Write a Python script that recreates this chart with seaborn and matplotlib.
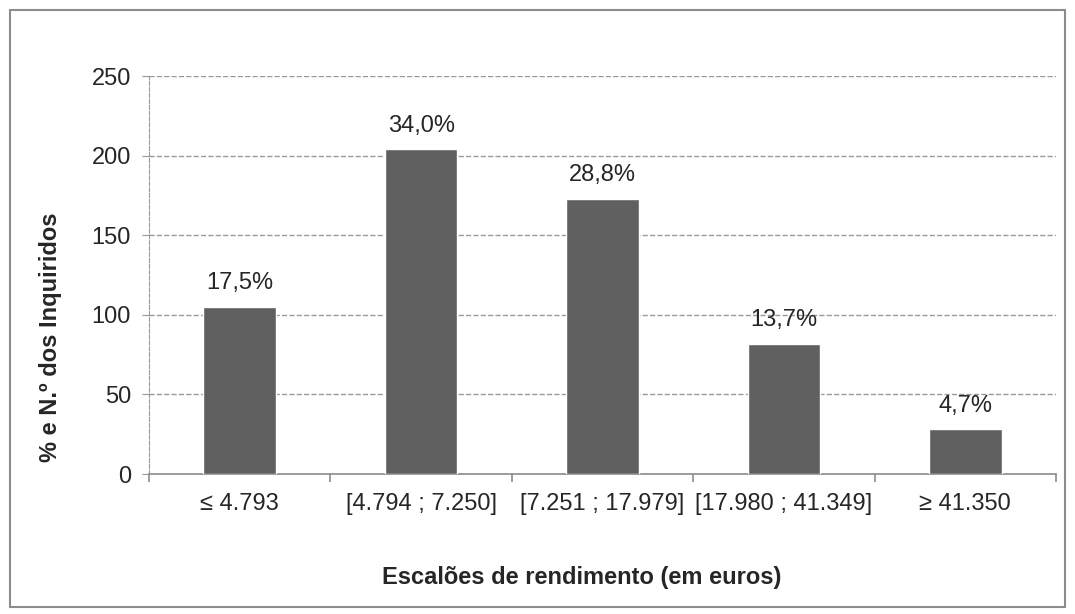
import matplotlib
matplotlib.use('Agg')
import matplotlib.pyplot as plt
import matplotlib.patches as mpatches
import seaborn as sns
import pandas as pd

categories = ['≤ 4.793', '[4.794 ; 7.250]', '[7.251 ; 17.979]',
              '[17.980 ; 41.349]', '≥ 41.350']
counts = [105, 204, 173, 82, 28]
pct_labels = ['17,5%', '34,0%', '28,8%', '13,7%', '4,7%']


def main():
    sns.set_style('white')
    plt.rcParams['font.family'] = ['Liberation Sans', 'DejaVu Sans']

    df = pd.DataFrame({'escalao': categories, 'n': counts})

    fig = plt.figure(figsize=(10.75, 6.14), dpi=100)
    ax = fig.add_axes([0.1386, 0.228, 0.8437, 0.648])

    sns.barplot(data=df, x='escalao', y='n', color='#606060', saturation=1,
                width=0.4, ax=ax, zorder=3)

    for i, (v, lab) in enumerate(zip(counts, pct_labels)):
        ax.annotate(lab, (i, v), xytext=(0, 9), textcoords='offset points',
                    ha='center', va='bottom', fontsize=17)

    ax.set_ylim(0, 250)
    ax.set_xlim(-0.5, len(categories) - 0.5)
    ax.set_yticks(range(0, 251, 50))
    ax.yaxis.grid(True, linestyle='--', color='#999999', linewidth=1, zorder=0)
    ax.set_axisbelow(True)

    for s in ['top', 'right']:
        ax.spines[s].set_visible(False)
    ax.spines['left'].set_color('#999999')
    ax.spines['left'].set_linestyle('--')
    ax.spines['bottom'].set_color('#8c8c8c')
    ax.spines['bottom'].set_linewidth(1.2)

    ax.tick_params(axis='y', labelsize=17, length=5, color='#999999',
                   left=True, pad=8)
    ax.tick_params(axis='x', which='major', labelsize=17, length=0, pad=14)
    ax.set_xticks([i - 0.5 for i in range(len(categories) + 1)], minor=True)
    ax.tick_params(axis='x', which='minor', length=6, color='#8c8c8c',
                   bottom=True, width=1.2)

    ax.set_xlabel('Escalões de rendimento (em euros)', fontsize=17,
                  fontweight='bold')
    ax.set_ylabel('% e N.º dos Inquiridos', fontsize=17, fontweight='bold')
    ax.xaxis.set_label_coords(0.477, -0.261)
    ax.xaxis.label.set_verticalalignment('center')
    ax.yaxis.set_label_coords(-0.109, 0.344)
    ax.yaxis.label.set_verticalalignment('center')

    # outer frame around the chart area
    fig.patches.append(mpatches.Rectangle((0.009, 0.012), 0.982, 0.972,
                                          transform=fig.transFigure,
                                          fill=False, edgecolor='#8c8c8c',
                                          linewidth=1.5))

    plt.savefig('out.png', dpi=100)


if __name__ == "__main__":
    main()
